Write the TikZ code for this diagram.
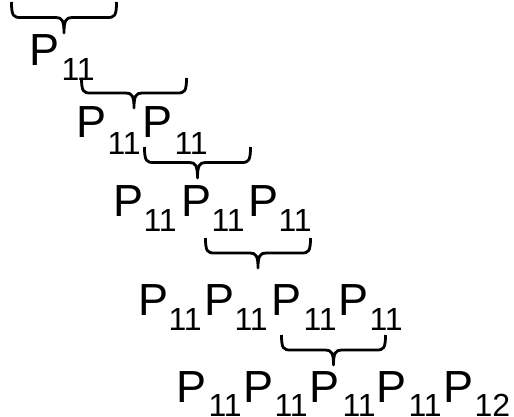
\documentclass[tikz,border=0pt]{standalone}
\usepackage{fontspec}
\setmainfont{Liberation Sans}
\tikzset{
  bigP/.style={anchor=base west, inner sep=0pt, outer sep=0pt, font=\fontsize{45}{45}\selectfont},
  subs/.style={anchor=base west, inner sep=0pt, outer sep=0pt, font=\fontsize{32}{32}\selectfont},
  bracestroke/.style={line width=2.8pt, line join=round},
  pics/dbrace/.style 2 args={code={
    \draw[bracestroke] (0,0) .. controls (0,{#2*0.45}) and (2,{#2*0.5}) .. (9,{#2*0.5})
      -- ({#1/2-8},{#2*0.5}) .. controls ({#1/2-2},{#2*0.5}) and ({#1/2},{#2*0.6}) .. ({#1/2},#2)
      .. controls ({#1/2},{#2*0.6}) and ({#1/2+2},{#2*0.5}) .. ({#1/2+8},{#2*0.5})
      -- ({#1-9},{#2*0.5}) .. controls ({#1-2},{#2*0.5}) and (#1,{#2*0.45}) .. (#1,0);
  }}
}
\begin{document}
\begin{tikzpicture}[x=1pt,y=-1pt]
  \useasboundingbox (0,0) rectangle (514,417);
  % big P letters
  \foreach \n/\x/\y in {p11/33/66,
      p21/80/138, p22/146/138,
      p31/117/216, p32/185/216, p33/252/216,
      p41/142/315, p42/208/315, p43/275/315, p44/342/315,
      p51/180/402, p52/247/402, p53/313/402, p54/380/402, p55/447/402}
    \node[bigP] (\n) at (\x-3.5,\y) {P};
  % subscripts
  \foreach \n/\x/\y/\t in {s11/65/81/11,
      s21/111/154/11, s22/178/154/11,
      s31/147/231/11, s32/215/231/11, s33/282/231/11,
      s41/172/330/11, s42/238/330/11, s43/307/330/11, s44/373/330/11,
      s51/212/416/11, s52/278/416/11, s53/346/416/11, s54/412/416/11, s55/478/416/12}
    \node[subs] (\n) at (\x-3.5,\y) {\t};
  % braces
  \pic at (11.5,2) {dbrace={105}{31}};
  \pic at (81.5,78) {dbrace={105}{30}};
  \pic at (144.5,147) {dbrace={106}{31}};
  \pic at (205.5,238) {dbrace={105}{30}};
  \pic at (281.5,335) {dbrace={104}{30}};
\end{tikzpicture}
\end{document}
